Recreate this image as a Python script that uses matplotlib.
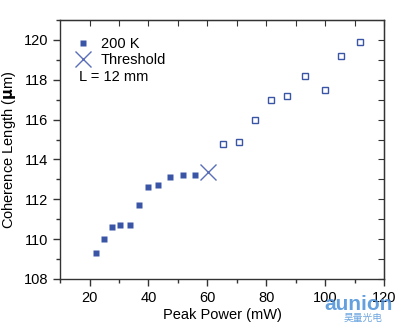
import numpy as np
import matplotlib
matplotlib.use('Agg')
import matplotlib.pyplot as plt
from matplotlib.ticker import MultipleLocator

plt.rcParams['font.family'] = ['Liberation Sans', 'DejaVu Sans']

# filled squares (below threshold)
p_low = [22.3, 24.9, 27.6, 30.5, 33.6, 36.7, 40.0, 43.4, 47.3, 51.7, 55.7]
l_low = [109.3, 110.0, 110.6, 110.7, 110.7, 111.7, 112.6, 112.7, 113.1, 113.2, 113.2]
# open squares (above threshold)
p_high = [65.2, 70.7, 76.2, 81.5, 87.1, 93.2, 99.8, 105.5, 111.8]
l_high = [114.8, 114.9, 116.0, 117.0, 117.2, 118.2, 117.5, 119.2, 119.9]
# threshold point
p_th = [60.1]
l_th = [113.35]

blue = '#3a55a6'
fs = 10.5

fig = plt.figure(figsize=(4.06, 3.29), dpi=100)
ax = fig.add_axes([0.148, 0.152, 0.798, 0.787])

ax.plot(p_low, l_low, 's', color=blue, markersize=4.5, mec='none', label='200 K')
ax.plot(p_high, l_high, 's', mfc='white', mec=blue, mew=1.0, markersize=4.4)
ax.plot(p_th, l_th, 'x', color='#5a6fb8', markersize=11, mew=1.0, label='Threshold')

ax.set_xlim(10, 120)
ax.set_ylim(108, 121)
ax.xaxis.set_major_locator(MultipleLocator(20))
ax.xaxis.set_minor_locator(MultipleLocator(10))
ax.yaxis.set_major_locator(MultipleLocator(2))
ax.yaxis.set_minor_locator(MultipleLocator(1))

for s in ax.spines.values():
    s.set_color('#333333')
    s.set_linewidth(1.0)
ax.tick_params(which='both', direction='out', colors='#333333', labelcolor='black',
               labelsize=fs, width=1.0)
ax.tick_params(which='major', length=5)
ax.tick_params(which='minor', length=3)

# inner ticks on top and right, unlabeled
axt = ax.secondary_xaxis('top')
axt.set_xticks(np.arange(20, 121, 10))
axt.tick_params(direction='in', length=4, labeltop=False, colors='#333333')
axr = ax.secondary_yaxis('right')
axr.set_yticks(np.arange(108, 121, 1))
axr.tick_params(direction='in', length=4, labelright=False, colors='#333333')

ax.set_xlabel('Peak Power (mW)', fontsize=fs, labelpad=2)
ax.set_ylabel('Coherence Length ($\\mathbf{\\mu}$m)', fontsize=fs, labelpad=4)

ax.legend(loc='upper left', frameon=False, fontsize=fs, handletextpad=0.63,
          borderaxespad=0.3, labelspacing=0.18, handlelength=1.2,
          bbox_to_anchor=(0.011, 0.975))
ax.text(79 / 406, 1 - 77 / 329, 'L = 12 mm', transform=fig.transFigure,
        fontsize=fs, ha='left', va='center')

# watermark
fig.text(0.968, 0.075, 'aunion', color='#4a90d9', fontsize=15, fontweight='bold',
         ha='right', va='center', alpha=0.85)
fig.text(0.943, 0.02, '昊量光电', color='#4a90d9', fontsize=7, ha='right',
         va='bottom', alpha=0.8, family=['Noto Sans CJK SC', 'DejaVu Sans'])

fig.savefig('out.png', dpi=100)
